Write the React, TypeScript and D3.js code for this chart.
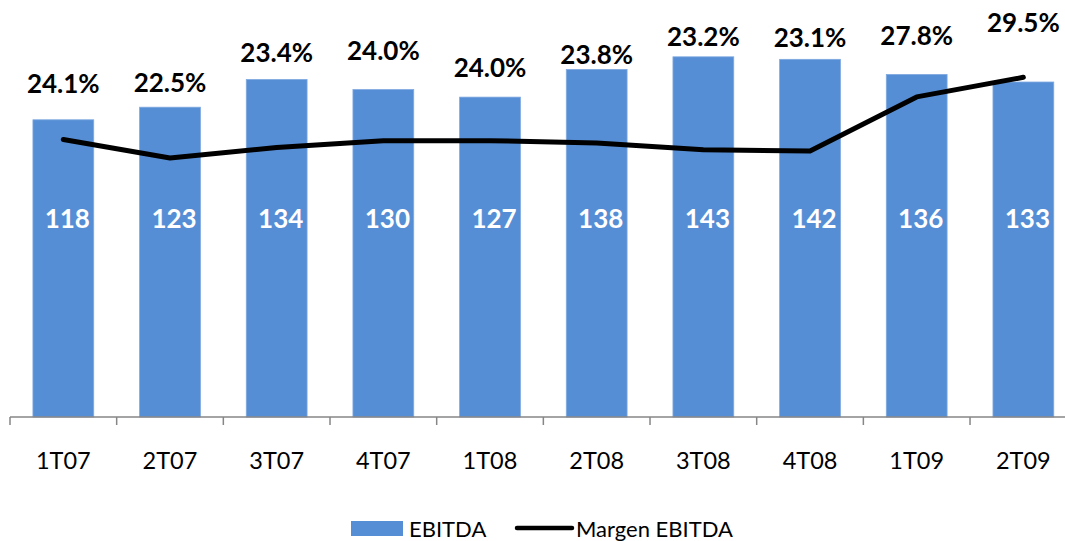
import React from "react";
import * as d3 from "d3";

const categories = ["1T07", "2T07", "3T07", "4T07", "1T08", "2T08", "3T08", "4T08", "1T09", "2T09"];
const ebitda = [118, 123, 134, 130, 127, 138, 143, 142, 136, 133];
const margin = [24.1, 22.5, 23.4, 24.0, 24.0, 23.8, 23.2, 23.1, 27.8, 29.5];
// where the hand-placed % labels sit, in EBITDA axis units
const marginLabelAt = [132.6, 133, 145, 145.7, 139, 144, 151.3, 151, 151.6, 156.8];
const ebitdaLabelAt = 79;

const W = 1065;
const H = 541;
const FONT = "Lato, 'Open Sans', sans-serif";

export default function App() {
  const x = d3.scaleBand().domain(categories).range([10, 1076.7]).paddingInner(0.43).paddingOuter(0.215);
  const xc = d3.scalePoint().domain(categories).range([10, 1076.7]).padding(0.5);
  const yBar = d3.scaleLinear().domain([0, 160]).range([417, 14]);
  const yPct = d3.scaleLinear().domain([0, 35]).range([417, 14]);

  const line = d3
    .line<number>()
    .x((_, i) => xc(categories[i]) as number)
    .y((d) => yPct(d));

  const step = (1076.7 - 10) / categories.length;
  const ticks = d3.range(categories.length + 1).map((i) => 10 + i * step);

  return (
    <svg width={W} height={H} style={{ position: "absolute", left: 0, top: 0, background: "#fff" }}>
      <g>
        {ebitda.map((v, i) => (
          <rect
            key={categories[i]}
            x={x(categories[i])}
            y={yBar(v)}
            width={x.bandwidth()}
            height={yBar(0) - yBar(v)}
            fill="#558ed5"
            stroke="#7fa9e0"
            strokeWidth={0.8}
          />
        ))}
      </g>
      <line x1={10} x2={W} y1={417} y2={417} stroke="#868686" strokeWidth={1.5} />
      {ticks.map((t, i) => (
        <line key={i} x1={t} x2={t} y1={417} y2={425} stroke="#868686" strokeWidth={1.5} />
      ))}
      {categories.map((c) => (
        <text
          key={c}
          x={xc(c)}
          y={460}
          textAnchor="middle"
          dominantBaseline="central"
          fontFamily={FONT}
          fontSize={23.5}
          fill="#000"
        >
          {c}
        </text>
      ))}
      <path d={line(margin) || ""} fill="none" stroke="#000" strokeWidth={5} strokeLinejoin="round" strokeLinecap="round" />
      {ebitda.map((v, i) => (
        <text
          key={"v" + i}
          x={(xc(categories[i]) as number) + 4}
          y={yBar(ebitdaLabelAt)}
          textAnchor="middle"
          dominantBaseline="central"
          fontFamily={FONT}
          fontWeight="bold"
          fontSize={26}
          fill="#fff"
        >
          {v}
        </text>
      ))}
      {margin.map((m, i) => (
        <text
          key={"m" + i}
          x={xc(categories[i])}
          y={yBar(marginLabelAt[i])}
          textAnchor="middle"
          dominantBaseline="central"
          fontFamily={FONT}
          fontWeight="bold"
          fontSize={26}
          fill="#000"
        >
          {m.toFixed(1) + "%"}
        </text>
      ))}
      <g fontFamily={FONT} fontSize={22}>
        <rect x={351} y={521} width={52} height={15} fill="#558ed5" />
        <text x={409} y={528} dominantBaseline="central">EBITDA</text>
        <line x1={517} x2={572} y1={528} y2={528} stroke="#000" strokeWidth={4.5} strokeLinecap="round" />
        <text x={576} y={528} dominantBaseline="central">Margen EBITDA</text>
      </g>
    </svg>
  );
}
